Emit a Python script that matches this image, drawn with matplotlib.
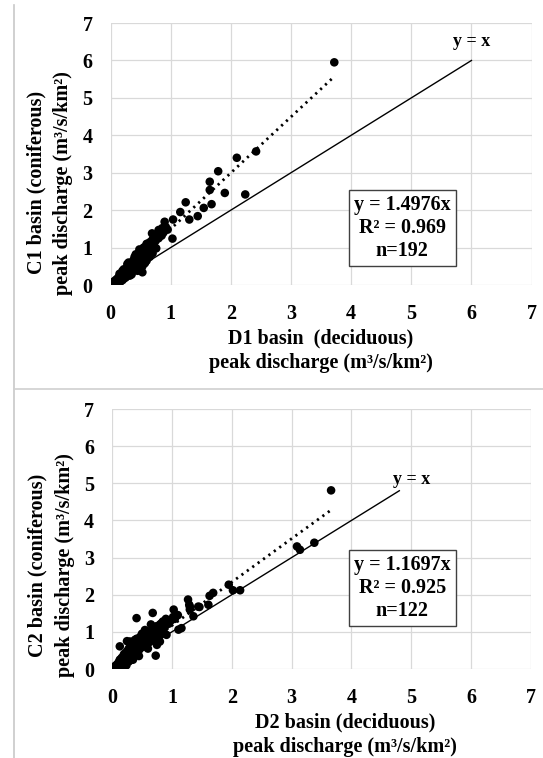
import matplotlib.pyplot as plt
from matplotlib.lines import Line2D

plt.rcParams['font.family'] = ['Liberation Serif', 'DejaVu Serif']
plt.rcParams['font.weight'] = 'bold'
plt.rcParams['axes.labelweight'] = 'bold'

# --- data ---
# top panel: D1 (deciduous) vs C1 (coniferous)
d1_x = [0.03, 0.05, 0.06, 0.08, 0.09, 0.10, 0.11, 0.12, 0.13, 0.14, 0.15, 0.16,
        0.17, 0.18, 0.19, 0.20, 0.21, 0.22, 0.23, 0.24, 0.25, 0.26, 0.27, 0.28,
        0.29, 0.30, 0.31, 0.32, 0.33, 0.34, 0.35, 0.36, 0.37, 0.38, 0.39, 0.40,
        0.41, 0.42, 0.43, 0.44, 0.45, 0.46, 0.47, 0.48, 0.49, 0.50, 0.51, 0.52,
        0.54, 0.55, 0.56, 0.57, 0.58, 0.59, 0.60, 0.62, 0.63, 0.65, 0.66, 0.68,
        0.70, 0.72, 0.74, 0.75, 0.78, 0.80, 0.82, 0.85, 0.86, 0.88, 0.90, 0.92,
        0.95, 0.45, 0.53, 1.03, 1.04, 1.16, 1.25, 1.31, 1.45, 1.55, 1.65, 1.65,
        1.68, 1.79, 1.90, 2.10, 2.24, 2.42, 3.72,
        0.20, 0.25, 0.30, 0.35, 0.40, 0.45, 0.50, 0.55, 0.60, 0.60, 0.65, 0.70,
        0.69, 0.80, 0.90, 0.15, 0.22, 0.28, 0.42, 0.48, 0.53, 0.58, 0.64, 0.76]
c1_y = [0.05, 0.03, 0.10, 0.06, 0.14, 0.08, 0.03, 0.18, 0.12, 0.22, 0.15, 0.08,
        0.26, 0.20, 0.30, 0.13, 0.24, 0.35, 0.18, 0.30, 0.40, 0.22, 0.34, 0.45,
        0.28, 0.50, 0.38, 0.25, 0.55, 0.42, 0.32, 0.60, 0.48, 0.66, 0.40, 0.55,
        0.72, 0.62, 0.45, 0.78, 0.68, 0.55, 0.84, 0.72, 0.62, 0.90, 0.80, 0.68,
        0.95, 0.86, 0.74, 0.58, 1.02, 0.92, 0.80, 1.08, 0.96, 0.88, 1.15, 1.02,
        1.22, 1.10, 1.30, 1.18, 1.36, 1.25, 1.45, 1.32, 1.52, 1.40, 1.69, 1.55,
        1.48, 0.45, 0.34, 1.24, 1.75, 1.95, 2.21, 1.75, 1.84, 2.06, 2.76, 2.54,
        2.16, 3.04, 2.46, 3.40, 2.42, 3.57, 5.95,
        0.38, 0.20, 0.60, 0.28, 0.75, 0.38, 0.55, 1.00, 0.65, 1.10, 0.75, 0.85,
        1.38, 1.47, 1.47, 0.30, 0.42, 0.56, 0.82, 0.95, 0.50, 0.62, 1.12, 0.98]

# bottom panel: D2 (deciduous) vs C2 (coniferous)
d2_x = [0.05, 0.07, 0.08, 0.10, 0.11, 0.12, 0.13, 0.14, 0.15, 0.16, 0.17, 0.18,
        0.19, 0.20, 0.21, 0.22, 0.23, 0.24, 0.25, 0.26, 0.27, 0.28, 0.29, 0.30,
        0.31, 0.32, 0.33, 0.34, 0.35, 0.36, 0.38, 0.39, 0.40, 0.42, 0.43, 0.44,
        0.46, 0.47, 0.48, 0.50, 0.52, 0.54, 0.55, 0.57, 0.58, 0.60, 0.62, 0.64,
        0.66, 0.68, 0.70, 0.72, 0.74, 0.76, 0.78, 0.80, 0.82, 0.85, 0.88, 0.90,
        0.95, 0.98, 1.02, 1.05, 1.10, 0.13, 0.30, 0.41, 0.49, 0.68, 0.73, 0.80,
        0.83, 0.91, 1.03, 1.08, 1.11, 1.16, 1.27, 1.29, 1.30, 1.30, 1.36, 1.44,
        1.46, 1.61, 1.63, 1.69, 1.95, 2.02, 2.14, 3.09, 3.14, 3.38, 3.66,
        0.25, 0.40, 0.50, 0.45, 0.60, 0.35, 0.55, 0.65, 0.20, 0.28, 0.75, 0.85]
c2_y = [0.08, 0.05, 0.12, 0.06, 0.18, 0.10, 0.25, 0.14, 0.08, 0.30, 0.20, 0.12,
        0.35, 0.25, 0.16, 0.42, 0.30, 0.10, 0.48, 0.36, 0.22, 0.55, 0.40, 0.28,
        0.62, 0.45, 0.33, 0.70, 0.50, 0.38, 0.78, 0.58, 0.44, 0.82, 0.62, 0.48,
        0.70, 0.55, 0.88, 0.75, 0.60, 0.92, 0.78, 0.65, 0.98, 0.85, 0.72, 1.02,
        0.90, 0.78, 1.08, 0.95, 1.15, 1.00, 0.85, 1.20, 1.05, 1.28, 1.12, 1.35,
        1.22, 1.30, 1.40, 1.35, 1.45, 0.61, 0.74, 1.37, 0.79, 1.51, 0.36, 0.74,
        1.24, 0.92, 1.60, 1.46, 1.06, 1.10, 1.87, 1.73, 1.60, 1.68, 1.42, 1.68,
        1.67, 1.73, 1.97, 2.05, 2.27, 2.12, 2.12, 3.30, 3.21, 3.40, 4.81,
        0.75, 0.80, 0.95, 0.35, 0.55, 0.25, 1.05, 1.20, 0.40, 0.20, 0.65, 0.95]

slope1, slope2 = 1.4976, 1.1697
fit1_end, fit2_end = 3.73, 3.67
one_end1, one_end2 = 6.0, 4.8
box1 = "y = 1.4976x\nR² = 0.969\nn=192"
box2 = "y = 1.1697x\nR² = 0.925\nn=122"
ticks = [0, 1, 2, 3, 4, 5, 6, 7]


def panel(ax, x, y, slope, fit_end, one_end, box_txt, box_xy, yx_xy,
          xlab, ylab, xlab_x, ylab_y):
    ax.plot([0, one_end], [0, one_end], color='black', lw=1.0, zorder=2)
    ax.plot([0, fit_end], [0, slope * fit_end], color='black', lw=2.0,
            linestyle=(0, (0.8, 1.6)), zorder=2)
    ax.scatter(x, y, s=38, color='black', edgecolors='none', zorder=3)
    ax.text(yx_xy[0], yx_xy[1], "y = x", ha='center', va='center',
            fontsize=13, fontweight='bold')
    ax.text(box_xy[0], box_xy[1], box_txt, ha='center', va='center',
            fontsize=14.5, fontweight='bold', linespacing=1.2,
            bbox=dict(boxstyle='square,pad=0.25', fc='white', ec='#404040', lw=1.0))
    ax.set_xlim(0, 7)
    ax.set_ylim(0, 7)
    ax.set_xticks(ticks)
    ax.set_yticks(ticks)
    for lab in ax.get_xticklabels() + ax.get_yticklabels():
        lab.set_fontweight('bold')
    ax.grid(True, color='#d9d9d9', lw=0.9)
    ax.set_axisbelow(True)
    for s in ax.spines.values():
        s.set_visible(False)
    ax.tick_params(length=0, labelsize=14.5)
    ax.tick_params(axis='x', pad=14)
    ax.tick_params(axis='y', pad=13)
    ax.set_xlabel(xlab, fontsize=14.5, fontweight='bold', linespacing=1.3,
                  va='center')
    ax.xaxis.set_label_coords(xlab_x, -0.252)
    ax.set_ylabel(ylab, fontsize=14.5, fontweight='bold', linespacing=1.45,
                  va='center')
    ax.yaxis.set_label_coords(-0.145, ylab_y)


fig = plt.figure(figsize=(5.43, 7.58), dpi=100)
ax1 = fig.add_axes([0.2035, 0.624, 0.7755, 0.3456])
ax2 = fig.add_axes([0.2063, 0.1174, 0.7716, 0.343])

panel(ax1, d1_x, c1_y, slope1, fit1_end, one_end1, box1, (4.85, 1.53), (6.0, 6.5),
      "D1 basin  (deciduous)\npeak discharge (m³/s/km²)",
      "C1 basin (coniferous)\npeak discharge (m³/s/km²)", 0.5, 0.39)
panel(ax2, d2_x, c2_y, slope2, fit2_end, one_end2, box2, (4.85, 2.17), (5.0, 5.1),
      "D2 basin (deciduous)\npeak discharge (m³/s/km²)",
      "C2 basin (coniferous)\npeak discharge (m³/s/km²)", 0.556, 0.40)

# frame lines of the original page
fig.add_artist(Line2D([14 / 543, 14 / 543], [0, 1 - 5 / 758], color='#c8c8c8', lw=1.2))
fig.add_artist(Line2D([14 / 543, 1], [1 - 389 / 758, 1 - 389 / 758], color='#d0d0d0', lw=1.2))

fig.savefig('out.png', dpi=100)
